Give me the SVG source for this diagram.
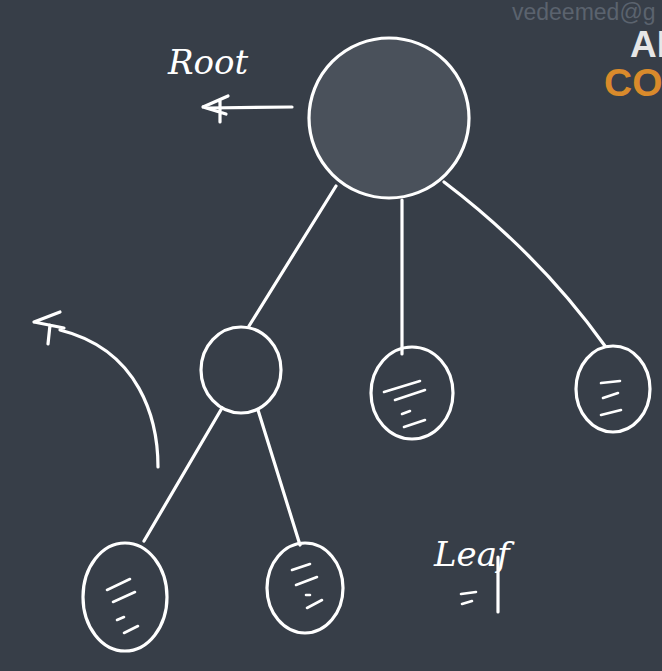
<svg xmlns="http://www.w3.org/2000/svg" width="662" height="671" viewBox="0 0 662 671">
<style>
.s{fill:none;stroke:#ffffff;stroke-width:3.2;stroke-linecap:round;stroke-linejoin:round}
.sc{fill:none;stroke:#ffffff;stroke-width:2.6;stroke-linecap:round}
.hw{font-family:"DejaVu Serif","Liberation Serif",serif;font-style:italic;fill:#ffffff}
</style>
<rect width="662" height="671" fill="#373e48"/>
<g id="watermark">
<text x="512" y="20" font-family="Liberation Sans, Arial, sans-serif" font-size="23" fill="#5b636e">vedeemed@g</text>
<text x="630" y="57" font-family="Liberation Sans, Arial, sans-serif" font-size="37" font-weight="bold" fill="#e6e6e6">AI</text>
<text x="604" y="96" font-family="Liberation Sans, Arial, sans-serif" font-size="39" font-weight="bold" fill="#d98a2b">CO</text>
</g>
<g id="connectors">
<path class="s" d="M336 186 L249 326"/>
<path class="s" d="M402 200 L402 354"/>
<path class="s" d="M444 182 Q540 255 605 346"/>
<path class="s" d="M222 408 L144 541"/>
<path class="s" d="M258 410 L300 545"/>
<path class="s" d="M292 107 L208 108"/>
<path class="s" d="M203 107 L228 96 M203 107 L226 114 M220 100 L220 122"/>
<path class="s" d="M158 467 C158 420 140 350 60 330"/>
<path class="s" d="M34 322 L60 312 M34 322 L64 328 M50 325 L48 344"/>
</g>
<g id="root">
<circle cx="389" cy="118" r="80" fill="#4a515b" stroke="#ffffff" stroke-width="3.2"/>
</g>
<g id="mid">
<ellipse cx="241" cy="370" rx="40" ry="43" class="s"/>
</g>
<g id="leaf1">
<ellipse cx="412" cy="393" rx="41" ry="46" class="s"/>
<path class="sc" d="M384 392 L420 381 M395 400 L425 390 M402 414 L410 411 M404 427 L425 420"/>
</g>
<g id="leaf2">
<ellipse cx="613" cy="389" rx="37" ry="43" class="s"/>
<path class="sc" d="M601 383 L620 381 M603 398 L618 393 M601 415 L621 410"/>
</g>
<g id="leaf3">
<ellipse cx="125" cy="597" rx="42" ry="54" class="s"/>
<path class="sc" d="M107 590 L130 579 M113 602 L135 592 M117 620 L124 617 M124 633 L138 626"/>
</g>
<g id="leaf4">
<ellipse cx="305" cy="588" rx="38" ry="45" class="s"/>
<path class="sc" d="M292 570 L310 564 M296 585 L317 577 M306 595 L310 595 M307 608 L322 600"/>
</g>
<g id="labels">
<text x="168" y="74" class="hw" font-size="34">Root</text>
<text x="434" y="566" class="hw" font-size="34">Leaf</text>
<path class="s" d="M498 557 L498 612"/>
<path class="sc" d="M461 594 L476 592 M462 604 L472 601"/>
</g>
</svg>
